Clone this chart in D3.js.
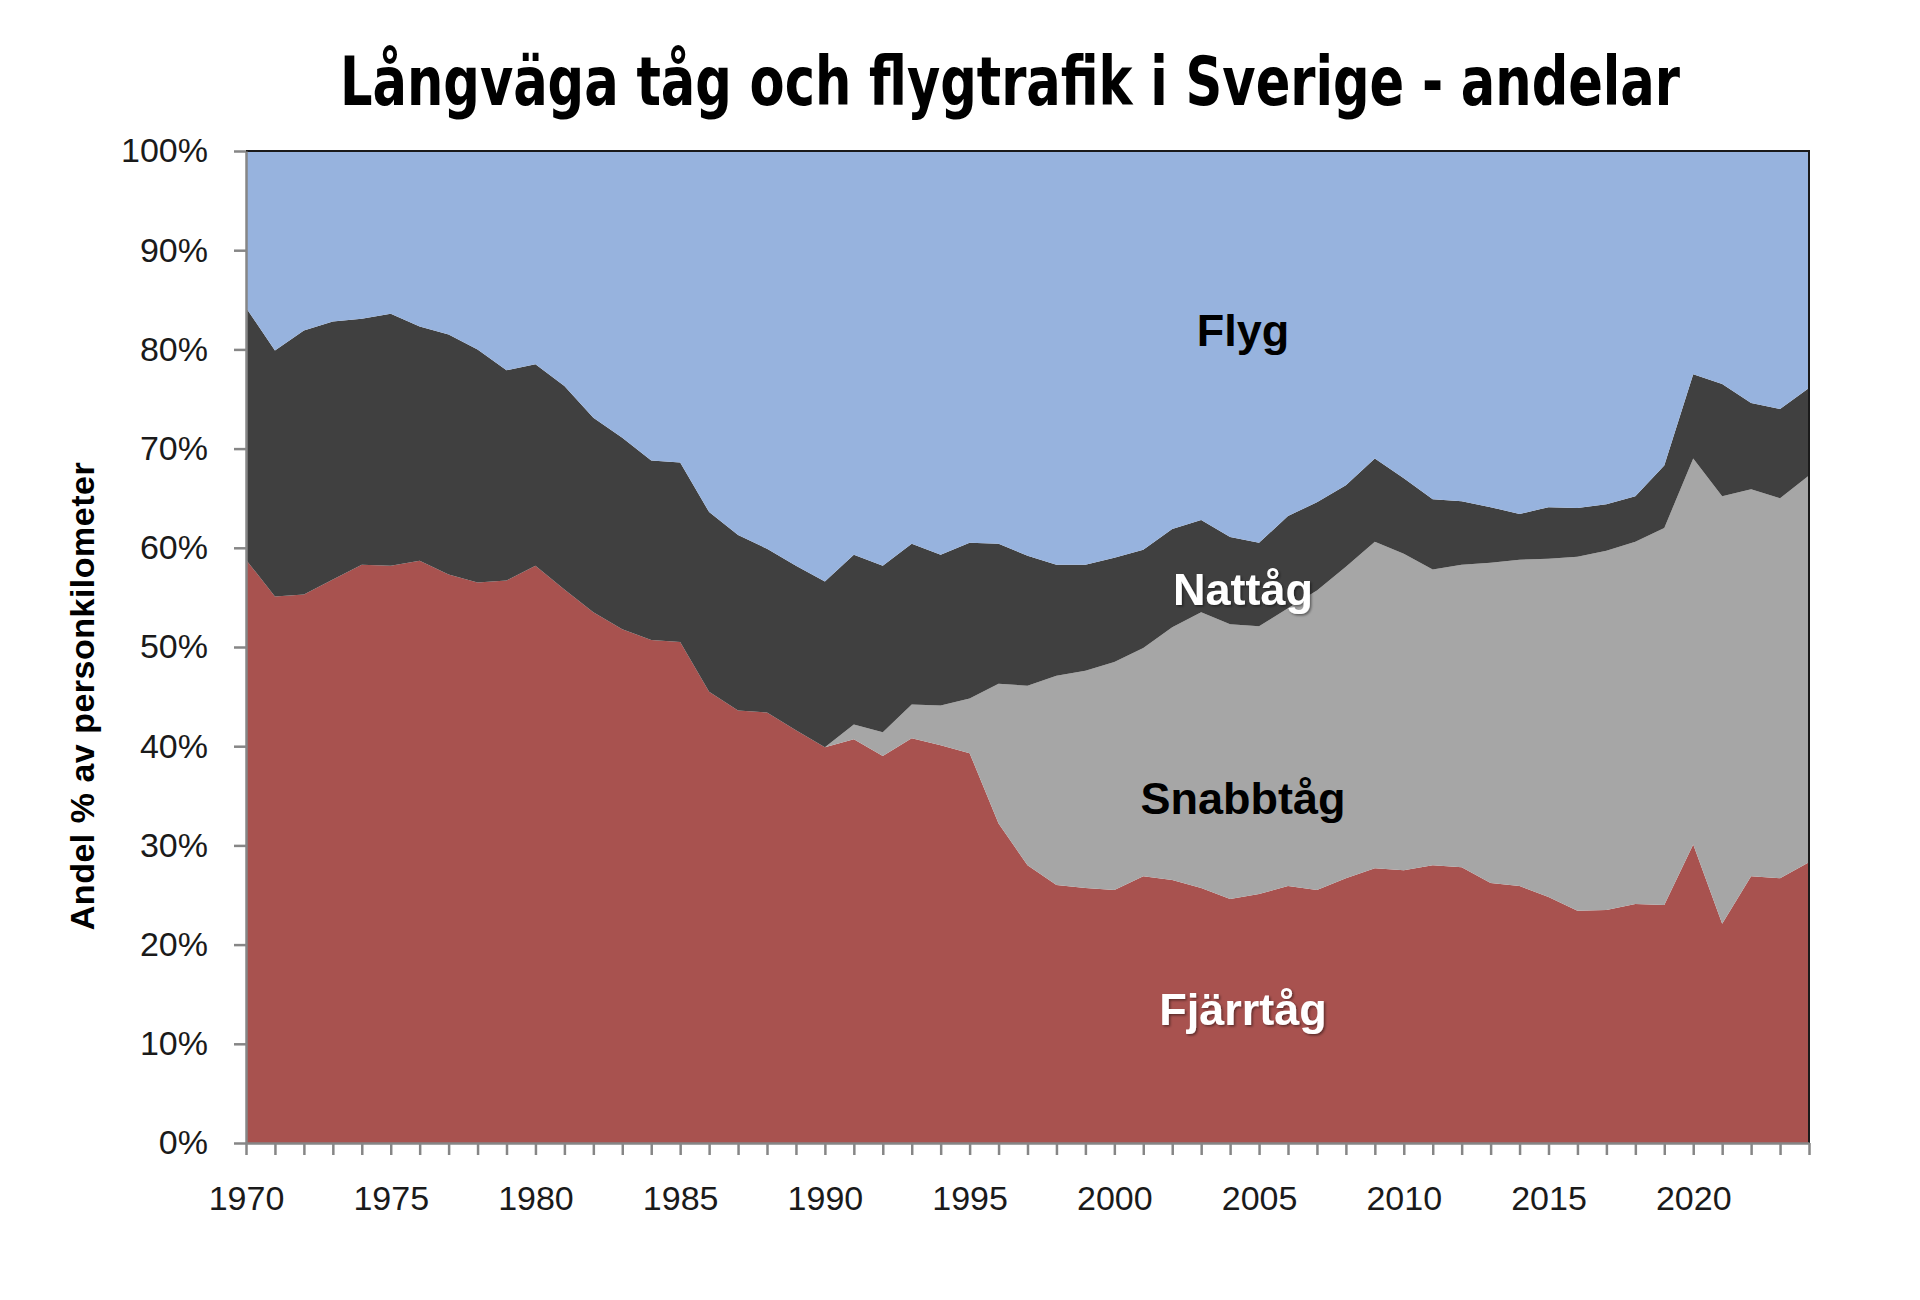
<!DOCTYPE html>
<html>
<head>
<meta charset="utf-8">
<script src="https://cdn.jsdelivr.net/npm/d3@7"></script>
<style>
  body { margin: 0; background: #fff; }
  svg { display: block; }
</style>
</head>
<body>
<div id="chart"></div>
<script>
// år 1970-2024
var years = d3.range(1970, 2025);

// andelar i procent
var fjarrtag = [58.8, 55.1, 55.3, 56.8, 58.3, 58.2, 58.7, 57.3, 56.5, 56.7,
    58.2, 55.8, 53.5, 51.8, 50.7, 50.5, 45.5, 43.6, 43.4, 41.6,
    39.9, 40.7, 39.0, 40.8, 40.1, 39.3, 32.2, 28.0, 26.0, 25.7,
    25.5, 26.9, 26.5, 25.7, 24.6, 25.1, 25.9, 25.5, 26.7, 27.7,
    27.5, 28.0, 27.8, 26.2, 25.9, 24.8, 23.4, 23.5, 24.1, 24.0,
    30.1, 22.1, 26.9, 26.7, 28.3];
var snabbtag = [0, 0, 0, 0, 0, 0, 0, 0, 0, 0,
    0, 0, 0, 0, 0, 0, 0, 0, 0, 0,
    0, 1.5, 2.4, 3.4, 4.0, 5.5, 14.1, 18.1, 21.1, 21.9,
    23.0, 23.0, 25.5, 27.8, 27.7, 27.0, 28.0, 30.2, 31.4, 32.9,
    31.9, 29.8, 30.5, 32.3, 32.9, 34.1, 35.7, 36.2, 36.5, 38.0,
    38.9, 43.1, 39.0, 38.3, 39.0];
var nattag = [25.4, 24.8, 26.6, 26.0, 24.8, 25.4, 23.6, 24.2, 23.5, 21.2,
    20.3, 20.5, 19.6, 19.3, 18.1, 18.1, 18.1, 17.7, 16.5, 16.6,
    16.7, 17.1, 16.8, 16.2, 15.2, 15.7, 14.1, 13.1, 11.2, 10.7,
    10.5, 9.9, 9.9, 9.3, 8.8, 8.4, 9.3, 8.9, 8.2, 8.4,
    7.6, 7.1, 6.4, 5.6, 4.6, 5.2, 4.9, 4.7, 4.6, 6.3,
    8.5, 11.3, 8.7, 9.0, 8.8];
var flyg = [15.8, 20.1, 18.1, 17.2, 16.9, 16.4, 17.7, 18.5, 20.0, 22.1,
    21.5, 23.7, 26.9, 28.9, 31.2, 31.4, 36.4, 38.7, 40.1, 41.8,
    43.4, 40.7, 41.8, 39.6, 40.7, 39.5, 39.6, 40.8, 41.7, 41.7,
    41.0, 40.2, 38.1, 37.2, 38.9, 39.5, 36.8, 35.4, 33.7, 31.0,
    33.0, 35.1, 35.3, 35.9, 36.6, 35.9, 36.0, 35.6, 34.8, 31.7,
    22.5, 23.5, 25.4, 26.0, 23.9];

var serieNamn = ["Fjärrtåg", "Snabbtåg", "Nattåg", "Flyg"];
var farger = ["#a8524f", "#a6a6a6", "#404040", "#97b3de"];
var yTicks = [0, 0.1, 0.2, 0.3, 0.4, 0.5, 0.6, 0.7, 0.8, 0.9, 1];

var width = 1920, height = 1300;
var plotL = 246, plotR = 1809, plotT = 151, plotB = 1143;

var rows = years.map(function(yr, i){
    return {year: yr, "Fjärrtåg": fjarrtag[i], "Snabbtåg": snabbtag[i], "Nattåg": nattag[i], "Flyg": flyg[i]};
});

var svg = d3.select("#chart").append("svg")
    .attr("width", width)
    .attr("height", height);

var defs = svg.append("defs");
defs.append("filter").attr("id", "skugga")
    .append("feDropShadow")
    .attr("dx", 1.5).attr("dy", 1.5)
    .attr("stdDeviation", 1)
    .attr("flood-color", "#000")
    .attr("flood-opacity", 0.45);

var x = d3.scaleLinear().domain([1970, 2024]).range([plotL, plotR]);
var y = d3.scaleLinear().domain([0, 1]).range([plotB, plotT]);

var stack = d3.stack().keys(serieNamn).offset(d3.stackOffsetExpand);
var lager = stack(rows);

var area = d3.area()
    .x(function(d){ return x(d.data.year); })
    .y0(function(d){ return y(d[0]); })
    .y1(function(d){ return y(d[1]); });

svg.append("g").selectAll("path")
    .data(lager)
    .enter()
    .append("path")
    .attr("fill", function(d, i){ return farger[i]; })
    .attr("d", area);

// ram upptill och till höger
svg.append("path")
    .attr("d", "M" + plotL + "," + plotT + "H" + plotR + "V" + plotB)
    .attr("fill", "none")
    .attr("stroke", "#1a1a1a")
    .attr("stroke-width", 2);

// y-axel
var yAxis = svg.append("g")
    .attr("transform", "translate(" + plotL + ",0)")
    .call(d3.axisLeft(y).tickValues(yTicks).tickFormat(d3.format(".0%"))
        .tickSize(12).tickSizeOuter(0).tickPadding(26));

// x-axel
var xAxis = svg.append("g")
    .attr("transform", "translate(0," + plotB + ")")
    .call(d3.axisBottom(x).tickValues(years)
        .tickFormat(function(d){ return d % 5 === 0 ? d : ""; })
        .tickSize(12).tickSizeOuter(0).tickPadding(31));

[yAxis, xAxis].forEach(function(a){
    a.select(".domain").attr("stroke", "#868686").attr("stroke-width", 2.5);
    a.selectAll(".tick line").attr("stroke", "#868686").attr("stroke-width", 2.5);
    a.selectAll("text")
        .attr("fill", "#1a1a1a")
        .style("font-family", "'Liberation Sans', Arial, sans-serif")
        .style("font-size", "34px");
});

// titel
svg.append("text")
    .attr("x", 1010)
    .attr("y", 105)
    .attr("text-anchor", "middle")
    .attr("textLength", 1340)
    .attr("lengthAdjust", "spacingAndGlyphs")
    .style("font-family", "'Liberation Sans Narrow', 'DejaVu Sans Condensed', sans-serif")
    .style("font-weight", "bold")
    .style("font-size", "68px")
    .attr("fill", "#000")
    .text("Långväga tåg och flygtrafik i Sverige - andelar");

// y-axelns titel
svg.append("text")
    .attr("transform", "translate(94,696) rotate(-90)")
    .attr("text-anchor", "middle")
    .style("font-family", "'Liberation Sans', Arial, sans-serif")
    .style("font-weight", "bold")
    .style("font-size", "34px")
    .style("letter-spacing", "0.5px")
    .attr("fill", "#000")
    .text("Andel % av personkilometer");

// etiketter i ytorna
var etiketter = [
    {text: "Flyg", y: 346, fill: "#000", skugga: false},
    {text: "Nattåg", y: 605, fill: "#fff", skugga: true},
    {text: "Snabbtåg", y: 814, fill: "#000", skugga: false},
    {text: "Fjärrtåg", y: 1025, fill: "#fff", skugga: true}
];
svg.append("g").selectAll("text")
    .data(etiketter)
    .enter()
    .append("text")
    .attr("x", 1243)
    .attr("y", function(d){ return d.y; })
    .attr("text-anchor", "middle")
    .attr("fill", function(d){ return d.fill; })
    .attr("filter", function(d){ return d.skugga ? "url(#skugga)" : null; })
    .style("font-family", "'Liberation Sans', Arial, sans-serif")
    .style("font-weight", "bold")
    .style("font-size", "45px")
    .text(function(d){ return d.text; });
</script>
</body>
</html>
